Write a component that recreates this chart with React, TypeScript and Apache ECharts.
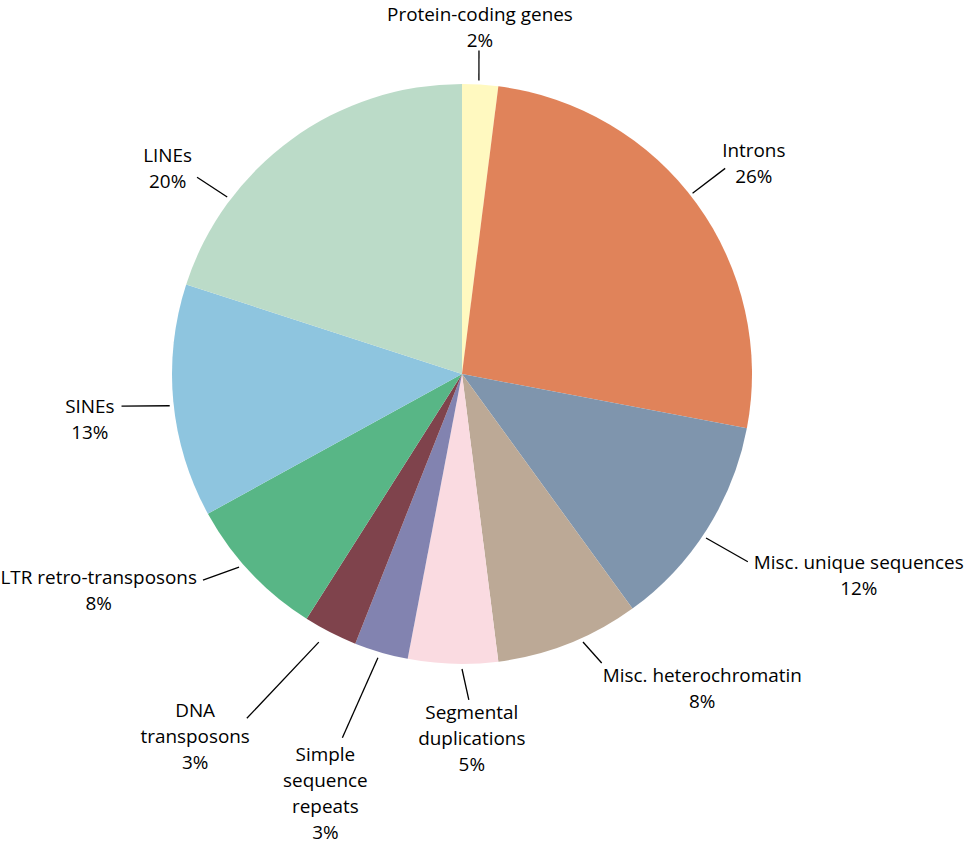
import React, { useEffect, useRef } from "react";
import * as echarts from "echarts";

// ---- data ----
const categories = [
  "Protein-coding genes",
  "Introns",
  "Misc. unique sequences",
  "Misc. heterochromatin",
  "Segmental duplications",
  "Simple sequence repeats",
  "DNA transposons",
  "LTR retro-transposons",
  "SINEs",
  "LINEs",
];
const values = [2, 26, 12, 8, 5, 3, 3, 8, 13, 20];

// ---- styles ----
const colors = [
  "#fff9c0",
  "#e0835a",
  "#7f95ad",
  "#bca996",
  "#fadbe1",
  "#8283b0",
  "#7f434c",
  "#58b686",
  "#8ec5df",
  "#bbdbc8",
];
const LABEL_WRAP: Record<string, string> = {
  "Segmental duplications": "Segmental\nduplications",
  "Simple sequence repeats": "Simple\nsequence\nrepeats",
  "DNA transposons": "DNA\ntransposons",
};
// leader line: angle tweaks (deg) at its two ends, distances beyond the rim,
// and where its end meets the label box (fractions of the box + pixel nudge)
const LEADER = [
  { t0: -0.3, t1: -0.6, from: 4, to: 34, ax: 0.5, ay: 1, dx: 1, dy: 3 },
  { t0: -2.1, t1: -2, from: 3, to: 44, ax: 0, ay: 0.6, dx: -3, dy: 0 },
  { t0: 1.5, t1: 0.9, from: 4, to: 52, ax: 0, ay: 0.25, dx: 6, dy: 0 },
  { t0: -2.7, t1: -4.2, from: 4, to: 31, ax: 0, ay: 0, dx: 1, dy: -1 },
  { t0: -1.8, t1: -3, from: 5, to: 36, ax: 0.5, ay: 0, dx: 3, dy: -1 },
  { t0: 0.3, t1: 2, from: 6, to: 93, ax: 0.5, ay: 0, dx: -17, dy: 3 },
  { t0: 1.1, t1: 5, from: 14, to: 116, ax: 1, ay: 0.27, dx: 3, dy: 0 },
  { t0: 2.3, t1: 4.7, from: 5, to: 41, ax: 1, ay: 0.3, dx: -6, dy: 0 },
  { t0: -0.8, t1: 0, from: 4, to: 52, ax: 1, ay: 0.25, dx: -7, dy: 0 },
  { t0: -17, t1: -17.4, from: 4, to: 40, ax: 1, ay: 0.67, dx: -5, dy: 0 },
];
const CENTER = [462, 374];
const RADIUS = 290;
const FONT = "Open Sans";
const FONT_SIZE = 18.9;
const LINE_HEIGHT = 26;

export default function App() {
  const ref = useRef<HTMLDivElement>(null);
  useEffect(() => {
    document.body.style.margin = "0";
    const chart = echarts.init(ref.current!, null, { renderer: "svg" });
    const total = values.reduce((a, b) => a + b, 0);
    const mids: number[] = [];
    let acc = 0;
    values.forEach((v) => {
      mids.push(((acc + v / 2) / total) * 360);
      acc += v;
    });
    const pt = (deg: number, r: number) => {
      const a = (deg * Math.PI) / 180;
      return [CENTER[0] + Math.sin(a) * r, CENTER[1] - Math.cos(a) * r];
    };

    chart.setOption({
      animation: false,
      series: [
        {
          type: "pie",
          center: CENTER,
          radius: RADIUS,
          startAngle: 90,
          clockwise: true,
          avoidLabelOverlap: false,
          itemStyle: { borderWidth: 0 },
          data: categories.map((name, i) => ({
            name,
            value: values[i],
            itemStyle: { color: colors[i] },
          })),
          label: {
            show: true,
            position: "outside",
            color: "#000",
            fontFamily: FONT,
            fontSize: FONT_SIZE,
            lineHeight: LINE_HEIGHT,
            formatter: (p: any) => {
              const lines = (LABEL_WRAP[p.name] ?? p.name).split("\n");
              lines.push(`${p.value}%`);
              return lines.map((l: string) => `{t|${l}}`).join("\n");
            },
            rich: {
              t: {
                align: "center",
                color: "#000",
                fontFamily: FONT,
                fontSize: FONT_SIZE,
                lineHeight: LINE_HEIGHT,
              },
            },
          },
          labelLine: {
            show: true,
            length: 10,
            length2: 0,
            lineStyle: { color: "#000", width: 1.3 },
          },
          emphasis: { disabled: true },
          labelLayout: (params: any) => {
            const i = params.dataIndex;
            const L = LEADER[i];
            const m = mids[i];
            const p0 = pt(m + L.t0, RADIUS + L.from);
            const p1 = pt(m + L.t1, RADIUS + L.to);
            const w = params.labelRect.width;
            const h = params.labelRect.height;
            return {
              x: p1[0] + L.dx - L.ax * w,
              y: p1[1] + L.dy - L.ay * h,
              align: "left",
              verticalAlign: "top",
              labelLinePoints: [p0, p1],
            };
          },
        },
      ],
    });
    return () => chart.dispose();
  }, []);
  return <div ref={ref} style={{ width: 964, height: 845 }} />;
}
